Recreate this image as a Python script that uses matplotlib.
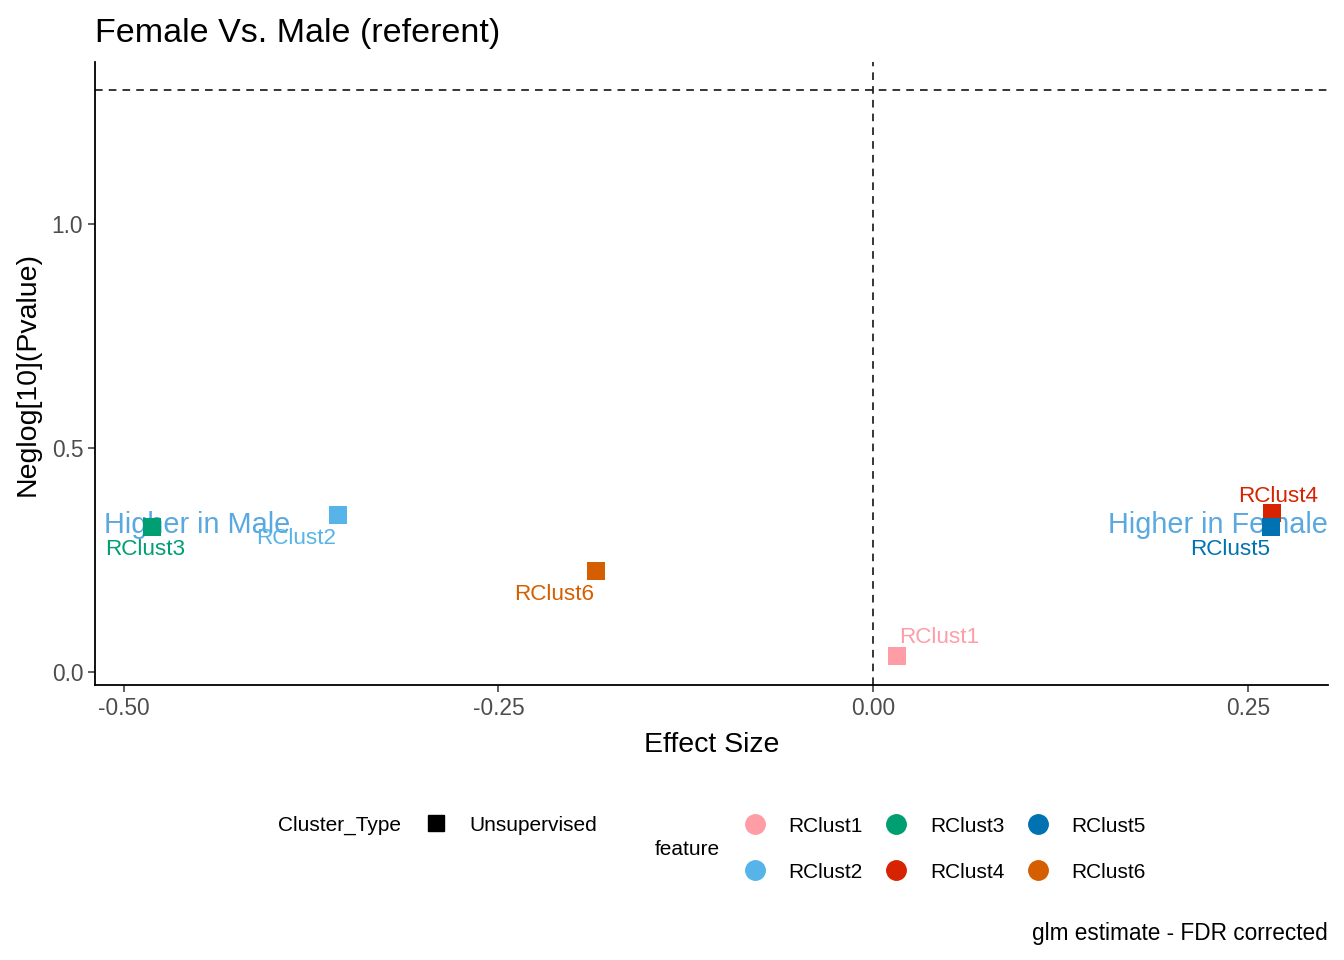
import matplotlib
matplotlib.use("Agg")
import matplotlib.pyplot as plt
from matplotlib.lines import Line2D

plt.rcParams['font.family'] = ['Liberation Sans', 'DejaVu Sans']

# data
features = ['RClust1', 'RClust2', 'RClust3', 'RClust4', 'RClust5', 'RClust6']
effect = [0.016, -0.357, -0.481, 0.266, 0.265, -0.185]
neglogp = [0.036, 0.350, 0.324, 0.355, 0.324, 0.225]
colors = ['#FF9DA7', '#56B4E9', '#009E73', '#D62300', '#0072B2', '#D55E00']
cluster_type = 'Unsupervised'
fdr_line = 1.301

# label offsets in points (repel-like placement)
offsets = {'RClust1': (30, 13), 'RClust2': (-30, -17), 'RClust3': (-5, -16),
           'RClust4': (4, 12), 'RClust5': (-29, -16), 'RClust6': (-30, -17)}

fig = plt.figure(figsize=(13.44, 9.6), dpi=100)
ax = fig.add_axes([0.0707, 0.2865, 0.9173, 0.6485])

ax.axhline(fdr_line, color='black', lw=1.1, ls=(0, (5, 4)), zorder=1)
ax.axvline(0, color='black', lw=1.1, ls=(0, (5, 4)), zorder=1)

trans = ax.get_yaxis_transform()
ax.text(0.0073, 0.329, 'Higher in Male', transform=trans, ha='left', va='center',
        fontsize=20.8, color='#5AA8E0', zorder=2)
ax.text(1.0, 0.329, 'Higher in Female', transform=trans, ha='right', va='center',
        fontsize=20.8, color='#5AA8E0', zorder=2)

for f, x, y, c in zip(features, effect, neglogp, colors):
    ax.scatter(x, y, marker='s', s=170, color=c, zorder=3, linewidths=0)
    ax.annotate(f, (x, y), xytext=offsets[f], textcoords='offset points',
                ha='center', va='center', fontsize=16.2, color=c, zorder=4)

ax.set_xlim(-0.519, 0.303)
ax.set_ylim(-0.029, 1.362)
ax.set_xticks([-0.50, -0.25, 0.00, 0.25])
ax.set_xticklabels(['-0.50', '-0.25', '0.00', '0.25'])
ax.set_yticks([0.0, 0.5, 1.0])
ax.set_yticklabels(['0.0', '0.5', '1.0'])
for s in ['top', 'right']:
    ax.spines[s].set_visible(False)
for s in ['left', 'bottom']:
    ax.spines[s].set_linewidth(1.3)
ax.tick_params(length=5, width=1.1, labelsize=16.4, labelcolor='#4D4D4D', color='#333333')
ax.set_xlabel('Effect Size', fontsize=20.5, labelpad=9)
ax.set_ylabel('Neglog[10](Pvalue)', fontsize=20.5, labelpad=8)
ax.set_title('Female Vs. Male (referent)', fontsize=24.5, loc='left', pad=15, x=0.0)

# legends
ct_handle = [Line2D([], [], marker='s', color='black', ls='', markersize=12)]
leg1 = fig.legend(ct_handle, [cluster_type], loc='center left',
                  bbox_to_anchor=(0.317, 0.1406), frameon=False, fontsize=15,
                  handlelength=1.0, handletextpad=1.1, borderpad=0, borderaxespad=0)
fig.text(278 / 1344, 0.1406, 'Cluster_Type', fontsize=15, ha='left', va='center')

ft_handles = [Line2D([], [], marker='o', color=c, ls='', markersize=14) for c in colors]
leg2 = fig.legend(ft_handles, features, loc='center left', ncol=3,
                  bbox_to_anchor=(0.554, 0.1155), frameon=False, fontsize=15,
                  handlelength=1.0, handletextpad=1.1, columnspacing=1.12,
                  labelspacing=1.3, borderpad=0, borderaxespad=0)
fig.text(655 / 1344, 0.1155, 'feature', fontsize=15, ha='left', va='center')

fig.text(1328 / 1344, 0.028, 'glm estimate - FDR corrected', fontsize=16.3,
         ha='right', va='center')

fig.savefig('out.png', dpi=100)
